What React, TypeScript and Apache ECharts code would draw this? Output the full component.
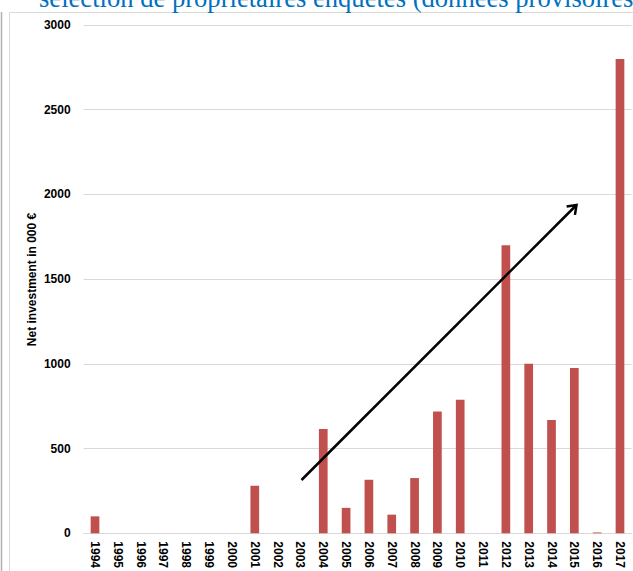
import React, { useEffect, useRef } from "react";
import * as echarts from "echarts";

const years = [
  "1994", "1995", "1996", "1997", "1998", "1999", "2000", "2001", "2002", "2003", "2004", "2005",
  "2006", "2007", "2008", "2009", "2010", "2011", "2012", "2013", "2014", "2015", "2016", "2017",
];
const investment = [
  100, 0, 0, 0, 0, 0, 0, 280, 0, 0, 615, 150,
  316, 110, 326, 719, 788, 0, 1700, 1000, 668, 975, 5, 2800,
];
const yTicks = { min: 0, max: 3000, interval: 500 };
const titleText = "sélection de propriétaires enquêtés (données provisoires";
const yAxisName = "Net investment in 000 €";

const FONT = "'Liberation Sans', Arial, sans-serif";

function arrowHead(x1: number, y1: number, x2: number, y2: number, len: number, ang: number) {
  const a = Math.atan2(y1 - y2, x1 - x2);
  return [
    [x2 + len * Math.cos(a + ang), y2 + len * Math.sin(a + ang)],
    [x2, y2],
    [x2 + len * Math.cos(a - ang), y2 + len * Math.sin(a - ang)],
  ];
}

export default function App() {
  const ref = useRef<HTMLDivElement>(null);
  useEffect(() => {
    if (!ref.current) return;
    const chart = echarts.init(ref.current, null, { renderer: "svg" });
    const ax1 = 301.5, ay1 = 480, ax2 = 576.5, ay2 = 205;
    chart.setOption({
      animation: false,
      backgroundColor: "#ffffff",
      grid: { left: 83.6, right: 1.6, top: 25, bottom: 37.5, containLabel: false },
      xAxis: {
        type: "category",
        data: years,
        axisLine: { show: true, lineStyle: { color: "#d9d9d9", width: 1 } },
        axisTick: { show: false },
        axisLabel: {
          rotate: -90,
          margin: 8,
          interval: 0,
          color: "#000",
          fontWeight: "bold",
          fontSize: 12,
          fontFamily: FONT,
        },
      },
      yAxis: {
        type: "value",
        min: yTicks.min,
        max: yTicks.max,
        interval: yTicks.interval,
        axisLine: { show: false },
        axisTick: { show: false },
        splitLine: { lineStyle: { color: "#d9d9d9", width: 1 } },
        axisLabel: {
          color: "#000",
          fontWeight: "bold",
          fontSize: 12,
          fontFamily: FONT,
          margin: 13,
          formatter: (v: number) => String(v),
        },
      },
      series: [
        {
          type: "bar",
          data: investment,
          barWidth: 8.7,
          itemStyle: { color: "#C0504D" },
        },
      ],
      graphic: [
        {
          type: "rect",
          shape: { x: 9.5, y: 12.5, width: 700, height: 700 },
          style: { fill: "none", stroke: "#d9d9d9", lineWidth: 1 },
          silent: true,
          z: 0,
        },
        {
          type: "line",
          shape: { x1: 1.5, y1: 12, x2: 1.5, y2: 571 },
          style: { stroke: "#b0b0b0", lineWidth: 1.5 },
          silent: true,
        },
        {
          type: "text",
          x: 32,
          y: 279.5,
          rotation: Math.PI / 2,
          style: {
            text: yAxisName,
            fill: "#000",
            font: "bold 12px " + FONT,
            align: "center",
            verticalAlign: "middle",
          },
          silent: true,
        },
        {
          type: "text",
          x: 39,
          y: 11.5,
          style: {
            text: titleText,
            fill: "#0070C0",
            font: "26.6px 'Liberation Serif', 'Times New Roman', serif",
            verticalAlign: "bottom",
          },
          silent: true,
        },
        {
          type: "line",
          shape: { x1: ax1, y1: ay1, x2: ax2, y2: ay2 },
          style: { stroke: "#000", lineWidth: 2.5 },
          silent: true,
          z: 100,
        },
        {
          type: "polyline",
          shape: { points: arrowHead(ax1, ay1, ax2, ay2, 10, Math.PI / 5) },
          style: { stroke: "#000", lineWidth: 2.5, fill: "none" },
          silent: true,
          z: 100,
        },
      ],
    });
    return () => chart.dispose();
  }, []);
  return (
    <div
      ref={ref}
      style={{ position: "absolute", left: 0, top: 0, width: 633, height: 571 }}
    />
  );
}
